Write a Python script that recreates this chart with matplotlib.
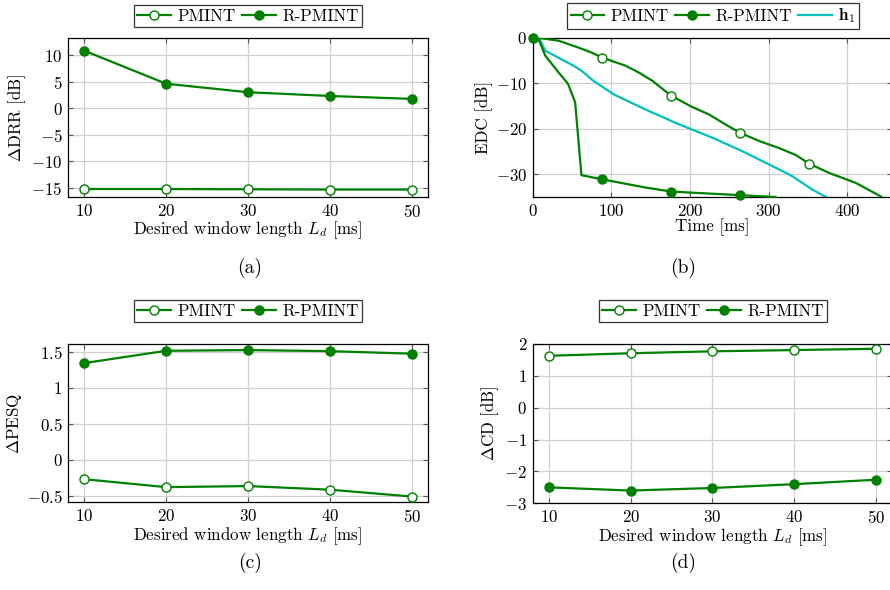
import matplotlib
matplotlib.use("Agg")
import matplotlib.pyplot as plt
import numpy as np

FS = 12.2

plt.rcParams.update({
    "font.family": "serif",
    "font.serif": ["cmr10"],
    "mathtext.fontset": "cm",
    "axes.formatter.use_mathtext": True,
    "font.size": FS,
    "axes.unicode_minus": True,
})

GREEN = "#008000"
CYAN = "#00BFBF"

# ---- data ----
Ld = [10, 20, 30, 40, 50]
drr_pmint = [-15.2, -15.2, -15.25, -15.3, -15.3]
drr_rpmint = [10.8, 4.6, 3.0, 2.3, 1.75]
pesq_pmint = [-0.27, -0.38, -0.365, -0.415, -0.51]
pesq_rpmint = [1.34, 1.51, 1.52, 1.505, 1.47]
cd_pmint = [1.63, 1.71, 1.77, 1.81, 1.85]
cd_rpmint = [-2.50, -2.60, -2.52, -2.40, -2.26]

# EDC curves (time in ms, EDC in dB)
t_pmint = [0, 9, 33, 58, 75, 88, 118, 135, 152, 176, 203, 224, 245, 264, 290, 313, 335, 352, 377, 411, 443]
edc_pmint = [0, 0, -0.6, -2.1, -3.2, -4.3, -6.1, -7.6, -9.4, -12.7, -15.2, -16.8, -19.0, -20.9, -22.8, -24.2, -25.8, -27.7, -29.7, -31.9, -34.9]
pmint_mark_idx = [0, 5, 9, 13, 17]

t_rpmint = [0, 8, 16, 33, 45, 54, 62, 88, 143, 176, 264, 309]
edc_rpmint = [0, -0.5, -3.9, -7.6, -10.1, -14.2, -30.2, -31.1, -32.9, -33.8, -34.6, -35.0]
rpmint_mark_idx = [0, 7, 9, 10]

t_h1 = [0, 8, 16, 52, 62, 77, 103, 143, 186, 228, 270, 313, 330, 355, 375]
edc_h1 = [0, 0, -2.8, -6.1, -7.2, -9.4, -12.4, -15.7, -19.0, -21.9, -25.2, -28.9, -30.4, -33.3, -35.2]

fig = plt.figure(figsize=(8.9, 5.9), dpi=100)
W, H = 890.0, 590.0


def add_ax(l, r, t, b):
    return fig.add_axes([l / W, 1 - b / H, (r - l) / W, (b - t) / H])


def style(ax):
    ax.grid(True, color="#d0d0d0", linewidth=0.9)
    ax.set_axisbelow(True)
    ax.tick_params(direction="in", top=True, right=True, length=3.5,
                   width=0.8, color="#555555", labelsize=FS, pad=4)
    for s in ax.spines.values():
        s.set_linewidth(0.9)


lw = 1.6
ms = 6.5
ms_open = 6.5


def plot_pair(ax, y_p, y_r):
    ax.plot(Ld, y_p, color=GREEN, lw=lw, marker="o", ms=ms_open,
            mfc="white", mec=GREEN, mew=1.0, label="PMINT", clip_on=False, zorder=3)
    ax.plot(Ld, y_r, color=GREEN, lw=lw, marker="o", ms=ms,
            mfc=GREEN, mec=GREEN, label="R-PMINT", clip_on=False, zorder=3)


def legend(ax, ncol, bbox):
    leg = ax.legend(loc="center", bbox_to_anchor=bbox, ncol=ncol, frameon=True,
                    fancybox=False, edgecolor="black", handlelength=2.0,
                    handletextpad=0.35, columnspacing=0.4, borderpad=0.2,
                    fontsize=FS, bbox_transform=fig.transFigure)
    leg.get_frame().set_linewidth(0.9)
    return leg


# (a)
axa = add_ax(68, 428, 38, 197)
plot_pair(axa, drr_pmint, drr_rpmint)
axa.set_xlim(8, 52)
axa.set_ylim(-16.7, 13.2)
axa.set_xticks(Ld)
axa.set_yticks([-15, -10, -5, 0, 5, 10])
axa.set_xlabel(r"Desired window length $L_d$ [ms]", labelpad=0)
axa.set_ylabel(r"$\Delta$DRR [dB]", labelpad=2)
style(axa)
legend(axa, 2, (248 / W, 1 - 16 / H))
fig.text(250 / W, 1 - 268 / H, "(a)", ha="center", va="center", fontsize=14)

# (b)
axb = add_ax(532.7, 892, 38, 197)
axb.plot(t_pmint, edc_pmint, color=GREEN, lw=lw, marker="o", ms=ms_open,
         mfc="white", mec=GREEN, mew=1.0, markevery=pmint_mark_idx, label="PMINT", zorder=3)
axb.plot(t_rpmint, edc_rpmint, color=GREEN, lw=lw, marker="o", ms=ms,
         mfc=GREEN, mec=GREEN, markevery=rpmint_mark_idx, label="R-PMINT", zorder=4,
         clip_on=False)
axb.plot(t_h1, edc_h1, color=CYAN, lw=lw, label=r"$\mathbf{h}_1$", zorder=2)
axb.set_xlim(0, 457)
axb.set_ylim(-35, 0)
axb.set_xticks([0, 100, 200, 300, 400])
axb.set_yticks([-30, -20, -10, 0])
axb.set_xlabel("Time [ms]", labelpad=0)
axb.set_ylabel("EDC [dB]", labelpad=2)
style(axb)
legend(axb, 3, (713 / W, 1 - 16 / H))
fig.text(683 / W, 1 - 268 / H, "(b)", ha="center", va="center", fontsize=14)

# (c)
axc = add_ax(68, 428, 344.3, 502.3)
plot_pair(axc, pesq_pmint, pesq_rpmint)
axc.set_xlim(8, 52)
axc.set_ylim(-0.59, 1.6)
axc.set_xticks(Ld)
axc.set_yticks([-0.5, 0, 0.5, 1, 1.5])
axc.set_yticklabels(["$-0.5$", "$0$", "$0.5$", "$1$", "$1.5$"])
axc.set_xlabel(r"Desired window length $L_d$ [ms]", labelpad=0)
axc.set_ylabel(r"$\Delta$PESQ", labelpad=2)
style(axc)
legend(axc, 2, (248 / W, 1 - 311 / H))
fig.text(250 / W, 1 - 563 / H, "(c)", ha="center", va="center", fontsize=14)

# (d)
axd = add_ax(532.7, 892, 344, 503.3)
plot_pair(axd, cd_pmint, cd_rpmint)
axd.set_xlim(8, 52)
axd.set_ylim(-3, 2)
axd.set_xticks(Ld)
axd.set_yticks([-3, -2, -1, 0, 1, 2])
axd.set_xlabel(r"Desired window length $L_d$ [ms]", labelpad=0)
axd.set_ylabel(r"$\Delta$CD [dB]", labelpad=2)
style(axd)
legend(axd, 2, (713 / W, 1 - 311 / H))
fig.text(683 / W, 1 - 563 / H, "(d)", ha="center", va="center", fontsize=14)

fig.savefig("out.png", dpi=100)
